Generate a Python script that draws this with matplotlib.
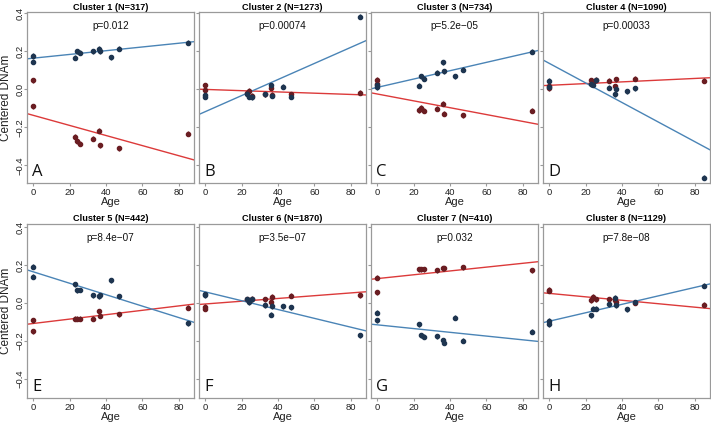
import matplotlib
matplotlib.use("Agg")
import matplotlib.pyplot as plt
import numpy as np

plt.rcParams['font.family'] = ['Liberation Sans', 'DejaVu Sans']

titles = ["Cluster 1 (N=317)", "Cluster 2 (N=1273)", "Cluster 3 (N=734)", "Cluster 4 (N=1090)",
          "Cluster 5 (N=442)", "Cluster 6 (N=1870)", "Cluster 7 (N=410)", "Cluster 8 (N=1129)"]
pvals = ["p=0.012", "p=0.00074", "p=5.2e\u221205", "p=0.00033",
         "p=8.4e\u221207", "p=3.5e\u221207", "p=0.032", "p=7.8e\u221208"]
letters = ["A", "B", "C", "D", "E", "F", "G", "H"]

red_age = [0, 0, 23, 24, 26, 33, 36, 37, 47, 85]
blue_age = [0, 0, 23, 24, 26, 33, 36, 37, 43, 47, 85]

red_1 = [0.047, -0.089, -0.249, -0.273, -0.287, -0.261, -0.219, -0.294, -0.310, -0.235]
blue_1 = [0.175, 0.145, 0.165, 0.200, 0.191, 0.200, 0.212, 0.200, 0.169, 0.212, 0.243]
red_2 = [0.020, -0.005, -0.020, -0.009, -0.033, -0.026, 0.009, -0.030, -0.025, -0.018]
blue_2 = [-0.030, -0.040, -0.026, -0.040, -0.043, -0.026, 0.021, -0.033, 0.012, -0.040, 0.381]
red_3 = [0.050, 0.030, -0.111, -0.097, -0.114, -0.102, -0.077, -0.128, -0.137, -0.114]
blue_3 = [0.020, 0.010, 0.019, 0.069, 0.056, 0.086, 0.142, 0.095, 0.067, 0.102, 0.197]
red_4 = [0.017, 0.006, 0.046, 0.040, 0.049, 0.044, 0.016, 0.053, 0.056, 0.044]
blue_4 = [0.044, 0.010, 0.025, 0.023, 0.046, 0.007, -0.026, 0.002, -0.011, 0.005, -0.466]
red_5 = [-0.092, -0.150, -0.083, -0.083, -0.083, -0.083, -0.044, -0.069, -0.060, -0.025]
blue_5 = [0.190, 0.138, 0.097, 0.067, 0.068, 0.041, 0.035, 0.041, 0.120, 0.035, -0.109]
red_6 = [-0.021, -0.030, 0.019, 0.011, 0.021, 0.019, 0.005, 0.032, 0.037, 0.041]
blue_6 = [0.045, 0.040, 0.019, 0.002, 0.019, -0.012, -0.062, -0.018, -0.018, -0.023, -0.171]
red_7 = [0.132, 0.055, 0.178, 0.178, 0.178, 0.173, 0.182, 0.182, 0.187, 0.173]
blue_7 = [-0.053, -0.092, -0.113, -0.171, -0.180, -0.176, -0.198, -0.210, -0.079, -0.201, -0.153]
red_8 = [0.070, 0.065, 0.014, 0.032, 0.018, 0.018, 0.014, 0.005, 0.000, -0.009]
blue_8 = [-0.095, -0.113, -0.065, -0.030, -0.030, -0.007, 0.026, -0.012, -0.035, 0.002, 0.090]

# fitted lines: intercept at age 0, slope per year
red_intercept = [-0.137, -0.001, -0.025, 0.0205, -0.109, -0.006, 0.128, 0.050]
red_slope = [-0.00265, -0.00033, -0.0018, 0.00045, 0.00116, 0.00073, 0.00101, -0.00091]
blue_intercept = [0.163, -0.118, 0.0095, 0.136, 0.164, 0.058, -0.116, -0.097]
blue_slope = [0.00098, 0.00422, 0.00219, -0.00514, -0.00302, -0.00233, -0.00099, 0.00223]

reds = [red_1, red_2, red_3, red_4, red_5, red_6, red_7, red_8]
blues = [blue_1, blue_2, blue_3, blue_4, blue_5, blue_6, blue_7, blue_8]

W, H = 711, 424
fig = plt.figure(figsize=(W / 100, H / 100), dpi=100)

col_left = [27, 199, 371, 543]
col_w = 167
row_top = [11.7, 223.5]
row_h = [171.6, 174.8]
row_ylim = [(-0.494, 0.407), (-0.504, 0.419)]

frame_col = "#9a9a9a"
pt_red = "#6a1d22"
pt_blue = "#1e3550"
ln_red = "#dc3a3a"
ln_blue = "#4a84b6"
xlim = (-3.4, 88.4)

for i in range(8):
    r, c = divmod(i, 4)
    ax = fig.add_axes([col_left[c] / W, 1 - (row_top[r] + row_h[r]) / H, col_w / W, row_h[r] / H])
    ax.set_xlim(*xlim)
    ax.set_ylim(*row_ylim[r])
    xs = np.array(xlim)
    ax.plot(xs, red_intercept[i] + red_slope[i] * xs, color=ln_red, lw=1.0, zorder=2)
    ax.plot(xs, blue_intercept[i] + blue_slope[i] * xs, color=ln_blue, lw=1.0, zorder=2)
    ax.errorbar(red_age, reds[i], yerr=0.013, fmt='o', ms=3.0, color=pt_red,
                elinewidth=1.0, capsize=0, zorder=3)
    ax.errorbar(blue_age, blues[i], yerr=0.013, fmt='o', ms=3.0, color=pt_blue,
                elinewidth=1.0, capsize=0, zorder=3)
    for s in ax.spines.values():
        s.set_color(frame_col)
        s.set_linewidth(0.9)
    ax.set_xticks([0, 20, 40, 60, 80])
    ax.set_yticks([-0.4, -0.2, 0.0, 0.2, 0.4])
    ax.tick_params(axis='both', direction='out', length=2.5, width=0.8, color=frame_col,
                   labelsize=6.8, labelcolor="#222222")
    ax.tick_params(axis='x', pad=1.0)
    ax.tick_params(axis='y', pad=0.8)
    if c == 0:
        ax.set_yticklabels(["\u22120.4", "\u22120.2", "0.0", "0.2", "0.4"])
        for lab in ax.get_yticklabels():
            lab.set_rotation(90)
            lab.set_rotation_mode('anchor')
            lab.set_ha('center')
            lab.set_va('baseline')
        ax.set_ylabel("Centered DNAm", fontsize=8.5, color="#222222")
        ax.yaxis.label.set_va('center')
        ax.yaxis.set_label_coords((6 - col_left[0]) / col_w, 0.5)
    else:
        ax.set_yticklabels([])
    ax.set_xlabel("Age", fontsize=8, labelpad=0, color="#222222")
    ax.set_title(titles[i], fontsize=6.6, fontweight='bold', pad=1.5)
    ax.text(0.5, 0.915, pvals[i], transform=ax.transAxes, ha='center', va='center',
            fontsize=7.2, color="#111111")
    ax.text(0.03, 0.02, letters[i], transform=ax.transAxes, ha='left', va='bottom',
            fontsize=12, family=['Open Sans', 'DejaVu Sans'], color="#111111")

fig.savefig("out.png", dpi=100)
